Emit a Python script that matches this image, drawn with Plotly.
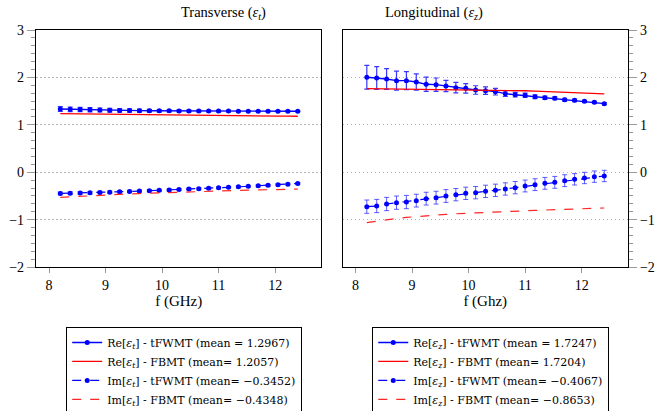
import plotly.graph_objects as go
from plotly.subplots import make_subplots

# ---------------- data ----------------
freq = [8.2 + 0.175 * i for i in range(25)]

re_t_fwmt = [1.333, 1.327, 1.322, 1.317, 1.312, 1.307, 1.303, 1.300, 1.298, 1.296,
             1.295, 1.294, 1.293, 1.292, 1.291, 1.290, 1.290, 1.289, 1.288, 1.288,
             1.287, 1.287, 1.286, 1.286, 1.285]
re_t_fwmt_err = [0.05, 0.048, 0.046, 0.044, 0.042, 0.04, 0.037, 0.034, 0.031, 0.028,
                 0.026, 0.024, 0.022, 0.02, 0.018, 0.017, 0.016, 0.015, 0.014, 0.013,
                 0.012, 0.012, 0.011, 0.011, 0.01]
re_t_fbmt = [1.234, 1.231, 1.228, 1.226, 1.223, 1.221, 1.218, 1.216, 1.213, 1.211,
             1.208, 1.206, 1.204, 1.202, 1.200, 1.198, 1.196, 1.194, 1.192, 1.190,
             1.188, 1.186, 1.184, 1.182, 1.180]
im_t_fwmt = [-0.447, -0.443, -0.439, -0.434, -0.428, -0.421, -0.413, -0.405, -0.398, -0.391,
             -0.383, -0.375, -0.366, -0.357, -0.348, -0.339, -0.329, -0.319, -0.309, -0.298,
             -0.288, -0.277, -0.265, -0.252, -0.238]
im_t_fwmt_err = [0.03, 0.03, 0.028, 0.028, 0.027, 0.026, 0.025, 0.025, 0.024, 0.024,
                 0.023, 0.023, 0.022, 0.022, 0.022, 0.021, 0.021, 0.021, 0.02, 0.02,
                 0.02, 0.02, 0.02, 0.02, 0.02]
im_t_fbmt = [-0.530, -0.518, -0.507, -0.496, -0.486, -0.476, -0.467, -0.458, -0.450, -0.442,
             -0.434, -0.427, -0.420, -0.413, -0.407, -0.401, -0.395, -0.389, -0.384, -0.379,
             -0.374, -0.369, -0.365, -0.361, -0.357]

re_z_fwmt = [2.002, 1.988, 1.966, 1.931, 1.931, 1.903, 1.854, 1.847, 1.819, 1.784,
             1.770, 1.734, 1.720, 1.699, 1.657, 1.636, 1.622, 1.594, 1.572, 1.558,
             1.530, 1.516, 1.495, 1.474, 1.446]
re_z_fwmt_err = [0.25, 0.24, 0.22, 0.20, 0.19, 0.17, 0.15, 0.14, 0.12, 0.11,
                 0.10, 0.09, 0.08, 0.07, 0.06, 0.05, 0.045, 0.04, 0.035, 0.03,
                 0.03, 0.025, 0.02, 0.02, 0.02]
re_z_fbmt = [1.764, 1.762, 1.760, 1.758, 1.756, 1.754, 1.752, 1.750, 1.748, 1.745,
             1.742, 1.739, 1.736, 1.732, 1.728, 1.723, 1.718, 1.712, 1.705, 1.698,
             1.690, 1.682, 1.673, 1.663, 1.652]
im_z_fwmt = [-0.727, -0.713, -0.671, -0.643, -0.629, -0.600, -0.558, -0.537, -0.502, -0.474,
             -0.446, -0.432, -0.404, -0.382, -0.354, -0.326, -0.291, -0.263, -0.235, -0.214,
             -0.179, -0.150, -0.122, -0.094, -0.080]
im_z_fwmt_err = [0.14, 0.14, 0.14, 0.14, 0.14, 0.135, 0.135, 0.135, 0.135, 0.13,
                 0.13, 0.13, 0.13, 0.13, 0.13, 0.13, 0.125, 0.125, 0.125, 0.125,
                 0.125, 0.12, 0.12, 0.12, 0.12]
im_z_fbmt = [-1.064, -1.030, -1.000, -0.975, -0.953, -0.934, -0.917, -0.902, -0.889, -0.877,
             -0.866, -0.856, -0.847, -0.838, -0.830, -0.822, -0.814, -0.806, -0.798, -0.790,
             -0.783, -0.776, -0.769, -0.762, -0.755]

legend_t = ["Re[<i>ε<sub>t</sub></i>] - tFWMT (mean = 1.2967)",
            "Re[<i>ε<sub>t</sub></i>] - FBMT (mean= 1.2057)",
            "Im[<i>ε<sub>t</sub></i>] - tFWMT (mean= −0.3452)",
            "Im[<i>ε<sub>t</sub></i>] - FBMT (mean= −0.4348)"]
legend_z = ["Re[<i>ε<sub>z</sub></i>] - tFWMT (mean = 1.7247)",
            "Re[<i>ε<sub>z</sub></i>] - FBMT (mean= 1.7204)",
            "Im[<i>ε<sub>z</sub></i>] - tFWMT (mean= −0.4067)",
            "Im[<i>ε<sub>z</sub></i>] - FBMT (mean= −0.8653)"]

x_ticks = [8, 9, 10, 11, 12]
y_ticks = [-2, -1, 0, 1, 2, 3]
y_tick_text = ["−2", "−1", "0", "1", "2", "3"]
y_minor = [-2 + k / 6 for k in range(31) if k % 6 != 0]

# ---------------- figure ----------------
FONT = "Liberation Serif"
LEGFONT = "DejaVu Serif"
BLUE = "rgb(0,0,255)"
ERR = "rgba(20,20,255,0.85)"
RED = "rgb(255,0,0)"

fig = make_subplots(rows=1, cols=2, horizontal_spacing=0.0355)


def add_panel(col, legend, re_fw, re_err, re_fb, im_fw, im_err, im_fb, names):
    fig.add_trace(go.Scatter(
        x=freq, y=re_fw, mode="lines+markers", name=names[0], legend=legend,
        line=dict(color=BLUE, width=1.4), marker=dict(color=BLUE, size=5),
        error_y=dict(type="data", array=re_err, color=ERR, thickness=1.2, width=2.5)),
        row=1, col=col)
    fig.add_trace(go.Scatter(
        x=freq, y=re_fb, mode="lines", name=names[1], legend=legend,
        line=dict(color=RED, width=1.3)), row=1, col=col)
    fig.add_trace(go.Scatter(
        x=freq, y=im_fw, mode="lines+markers", name=names[2], legend=legend,
        line=dict(color=BLUE, width=1.2, dash="dash"), marker=dict(color=BLUE, size=5),
        error_y=dict(type="data", array=im_err, color="rgba(40,40,255,0.75)",
                     thickness=1.0, width=2.5)),
        row=1, col=col)
    fig.add_trace(go.Scatter(
        x=freq, y=im_fb, mode="lines", name=names[3], legend=legend,
        line=dict(color="rgba(255,0,0,0.85)", width=1.2, dash="dash")), row=1, col=col)


add_panel(1, "legend", re_t_fwmt, re_t_fwmt_err, re_t_fbmt,
          im_t_fwmt, im_t_fwmt_err, im_t_fbmt, legend_t)
add_panel(2, "legend2", re_z_fwmt, re_z_fwmt_err, re_z_fbmt,
          im_z_fwmt, im_z_fwmt_err, im_z_fbmt, legend_z)

xcommon = dict(range=[7.77, 12.82], tickvals=x_ticks, ticks="outside", ticklen=5,
               tickcolor="#9a9a9a", showline=True, linecolor="black", linewidth=1.2,
               mirror=True, showgrid=False, zeroline=False, automargin=False,
               tickfont=dict(family=FONT, size=14, color="black"),
               title=dict(font=dict(family=FONT, size=15, color="black"), standoff=0))
ycommon = dict(range=[-2, 3], tickvals=y_ticks, ticktext=y_tick_text, ticks="outside",
               ticklen=8, tickcolor="#9a9a9a", showline=True, linecolor="black",
               linewidth=1.2, mirror=True, showgrid=True, gridcolor="#b5b5b5",
               griddash="1.5px,2.5px", gridwidth=1.2, zeroline=False, automargin=False,
               tickfont=dict(family=FONT, size=14, color="black"),
               minor=dict(tickvals=y_minor, ticks="outside", ticklen=4,
                          tickcolor="#9a9a9a", showgrid=False))

fig.update_xaxes(**xcommon)
fig.update_yaxes(**ycommon)
fig.update_xaxes(title_text="f (GHz)", row=1, col=1)
fig.update_xaxes(title_text="f (Ghz)", row=1, col=2)
fig.update_yaxes(side="right", row=1, col=2)

legend_style = dict(bgcolor="white", bordercolor="black", borderwidth=1,
                    font=dict(family=LEGFONT, size=11, color="black"),
                    xanchor="left", yanchor="top", tracegroupgap=0,
                    itemwidth=30)

fig.update_layout(
    width=657, height=411,
    margin=dict(l=36, r=29, t=30, b=144, autoexpand=False),
    paper_bgcolor="white", plot_bgcolor="white",
    font=dict(family=FONT, color="black"),
    legend=dict(x=0.051, y=-0.253, **legend_style),
    legend2=dict(x=0.568, y=-0.253, **legend_style),
    annotations=[
        dict(text="Transverse (<i>ε<sub>t</sub></i>)", x=0.2413, y=1.0, xref="paper",
             yref="paper", yanchor="bottom", yshift=6, showarrow=False,
             font=dict(family=FONT, size=14.5, color="black")),
        dict(text="Longitudinal (<i>ε<sub>z</sub></i>)", x=0.759, y=1.0, xref="paper",
             yref="paper", yanchor="bottom", yshift=6, showarrow=False,
             font=dict(family=FONT, size=14.5, color="black")),
    ],
)

fig.write_html(
    "out.html",
    config={"displayModeBar": False},
    post_script="document.body.style.margin='0';document.body.style.overflow='hidden';",
)
